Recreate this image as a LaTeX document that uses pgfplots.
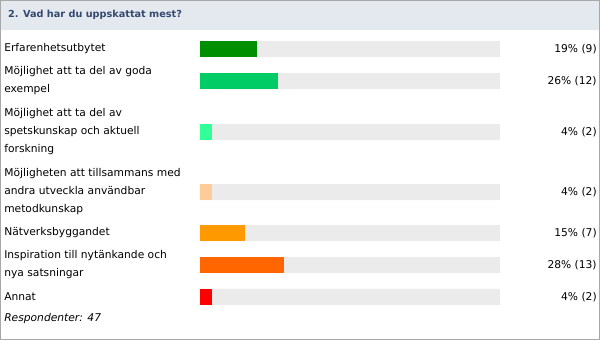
\documentclass[border=0pt]{standalone}
\usepackage{pgfplots}
\pgfplotsset{compat=1.18}
\usepackage{fontspec}
\setmainfont{DejaVu Sans}
\definecolor{c1}{HTML}{008F00}
\definecolor{c2}{HTML}{00CC66}
\definecolor{c3}{HTML}{33FF99}
\definecolor{c4}{HTML}{FFCC99}
\definecolor{c5}{HTML}{FF9900}
\definecolor{c6}{HTML}{FF6600}
\definecolor{c7}{HTML}{FF0000}
\definecolor{track}{HTML}{EBEBEB}
\definecolor{hdrbg}{HTML}{E4E8EF}
\definecolor{hdrtxt}{HTML}{34496F}
\definecolor{frame}{HTML}{A8A8A8}
\tikzset{lab/.style={font=\fontsize{10.7bp}{18bp}\selectfont, text=black, inner sep=0pt, align=left}}
\begin{document}
\begin{tikzpicture}[x=1bp,y=1bp]
\begin{axis}[
  scale only axis, width=600bp, height=340bp,
  xmin=-66.6667, xmax=133.3333, ymin=0, ymax=340, y dir=reverse,
  axis lines=none, clip=false,
  xbar, bar width=16,
]
% background
\fill[hdrbg] (axis cs:-66.6667,0) rectangle (axis cs:133.3333,30);
\draw[frame, line width=1bp] (axis cs:-66.5,0.5) rectangle (axis cs:133.17,339.5);
% tracks
\addplot[draw=none, fill=track, bar shift=0pt] coordinates {(100,49) (100,81) (100,132) (100,192) (100,233) (100,265) (100,297)};
% values
\addplot[draw=none, fill=c1, bar shift=0pt] coordinates {(19,49)};
\addplot[draw=none, fill=c2, bar shift=0pt] coordinates {(26,81)};
\addplot[draw=none, fill=c3, bar shift=0pt] coordinates {(4,132)};
\addplot[draw=none, fill=c4, bar shift=0pt] coordinates {(4,192)};
\addplot[draw=none, fill=c5, bar shift=0pt] coordinates {(15,233)};
\addplot[draw=none, fill=c6, bar shift=0pt] coordinates {(28,265)};
\addplot[draw=none, fill=c7, bar shift=0pt] coordinates {(4,297)};
% title
\node[lab, anchor=west, text=hdrtxt, font=\fontsize{9.7bp}{13bp}\selectfont\bfseries] at (axis cs:-64,15) {2. Vad har du uppskattat mest?};
% labels
\node[lab, anchor=west] at (axis cs:-65.3,49) {Erfarenhetsutbytet};
\node[lab, anchor=west] at (axis cs:-65.3,81) {Möjlighet att ta del av goda\\exempel};
\node[lab, anchor=west] at (axis cs:-65.3,132) {Möjlighet att ta del av\\spetskunskap och aktuell\\forskning};
\node[lab, anchor=west] at (axis cs:-65.3,192) {Möjligheten att tillsammans med\\andra utveckla användbar\\metodkunskap};
\node[lab, anchor=west] at (axis cs:-65.3,233) {Nätverksbyggandet};
\node[lab, anchor=west] at (axis cs:-65.3,265) {Inspiration till nytänkande och\\nya satsningar};
\node[lab, anchor=west] at (axis cs:-65.3,297) {Annat};
\node[lab, anchor=west, font=\fontsize{10.7bp}{13bp}\selectfont\itshape] at (axis cs:-65.3,319) {Respondenter: 47};
% value labels
\node[lab, anchor=east] at (axis cs:132.3,49) {19\% (9)};
\node[lab, anchor=east] at (axis cs:132.3,81) {26\% (12)};
\node[lab, anchor=east] at (axis cs:132.3,132) {4\% (2)};
\node[lab, anchor=east] at (axis cs:132.3,192) {4\% (2)};
\node[lab, anchor=east] at (axis cs:132.3,233) {15\% (7)};
\node[lab, anchor=east] at (axis cs:132.3,265) {28\% (13)};
\node[lab, anchor=east] at (axis cs:132.3,297) {4\% (2)};
\end{axis}
\end{tikzpicture}
\end{document}
